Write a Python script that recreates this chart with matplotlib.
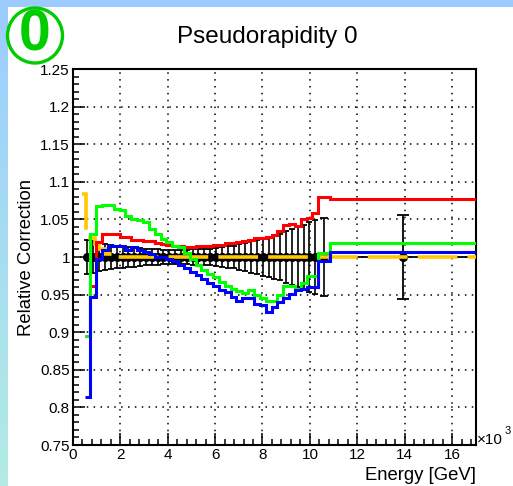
import numpy as np
import matplotlib.pyplot as plt
from matplotlib.patches import Circle, Rectangle
from matplotlib.ticker import MultipleLocator, FuncFormatter

plt.switch_backend('Agg')
plt.rcParams['font.family'] = ['Liberation Sans', 'DejaVu Sans']

# bin edges in GeV (same binning for red / green / blue and the black graph)
edges = np.array([500, 746, 993, 1239, 1485, 1731, 1978, 2224, 2470, 2716,
                  2963, 3209, 3455, 3701, 3948, 4194, 4440, 4686, 4933, 5179,
                  5425, 5671, 5918, 6164, 6410, 6656, 6903, 7149, 7395, 7641,
                  7888, 8134, 8380, 8626, 8873, 9119, 9365, 9611, 9858, 10104,
                  10350, 10850, 17000])

red = [0.895, 0.962, 1.020, 1.030, 1.030, 1.030, 1.027, 1.027, 1.023, 1.023,
       1.021, 1.021, 1.019, 1.017, 1.016, 1.015, 1.014, 1.013, 1.013, 1.014,
       1.014, 1.014, 1.016, 1.016, 1.018, 1.018, 1.020, 1.021, 1.023, 1.025,
       1.025, 1.027, 1.029, 1.035, 1.042, 1.044, 1.041, 1.050, 1.052, 1.058,
       1.080, 1.077]

green = [0.895, 1.030, 1.068, 1.069, 1.069, 1.064, 1.062, 1.055, 1.051, 1.049,
         1.046, 1.037, 1.030, 1.024, 1.020, 1.015, 1.013, 1.005, 0.997, 0.990,
         0.983, 0.977, 0.973, 0.967, 0.962, 0.958, 0.955, 0.952, 0.956, 0.949,
         0.945, 0.941, 0.941, 0.949, 0.962, 0.962, 0.958, 0.966, 0.975, 0.975,
         1.005, 1.018]

blue = [0.814, 0.947, 0.998, 1.009, 1.014, 1.014, 1.014, 1.009, 1.013, 1.009,
        1.007, 1.004, 1.000, 1.000, 0.998, 0.995, 0.989, 0.985, 0.980, 0.976,
        0.971, 0.966, 0.962, 0.956, 0.953, 0.947, 0.942, 0.945, 0.945, 0.938,
        0.936, 0.927, 0.934, 0.940, 0.946, 0.951, 0.956, 0.958, 0.960, 0.960,
        0.995, 1.007]

# reference graph: value 1 with symmetric errors
ref_err = [0.022, 0.021, 0.019, 0.017, 0.016, 0.015, 0.014, 0.013, 0.013, 0.012,
           0.011, 0.010, 0.010, 0.009, 0.009, 0.009, 0.009, 0.009, 0.010, 0.010,
           0.011, 0.011, 0.012, 0.013, 0.014, 0.015, 0.017, 0.019, 0.021, 0.023,
           0.025, 0.027, 0.029, 0.031, 0.034, 0.037, 0.040, 0.043, 0.046, 0.049,
           0.052, 0.056]

# yellow curve has its own binning
yellow_edges = [400, 580, 730, 940, 1110, 1360, 1790, 17000]
yellow = [1.084, 1.038, 1.025, 1.017, 1.010, 1.004, 1.000]

centers = 0.5 * (edges[:-1] + edges[1:])
halfw = 0.5 * (edges[1:] - edges[:-1])
ones = np.ones(len(centers))

fig = plt.figure(figsize=(5.13, 4.86), dpi=100)
fig.patch.set_facecolor('white')

# light blue page border
fig.add_artist(Rectangle((0, 1 - 7 / 486), 1, 7 / 486, transform=fig.transFigure,
                         facecolor='#9cccff', edgecolor='none'))
bax = fig.add_axes([0, 0, 8 / 513, 1 - 7 / 486])
grad = np.linspace(0, 1, 100).reshape(-1, 1)
cm = plt.matplotlib.colors.LinearSegmentedColormap.from_list('b', ['#9ccdff', '#b2ece4'])
bax.imshow(grad, aspect='auto', cmap=cm, extent=[0, 1, 0, 1], origin='upper')
bax.axis('off')

ax = fig.add_axes([72.7 / 513, 1 - 445 / 486, (476 - 72.7) / 513, (445 - 69) / 486])

ax.errorbar(centers[:40], ones[:40], yerr=ref_err[:40], xerr=halfw[:40], fmt='o',
            color='k', ms=5.5, elinewidth=1.2, capsize=2.0, capthick=1.3, zorder=2)
ax.errorbar(centers[40:41], ones[40:41], yerr=ref_err[40:41], xerr=halfw[40:41], fmt='o',
            color='k', ms=5.5, elinewidth=1.2, capsize=3.0, capthick=1.3, zorder=2)
ax.errorbar(centers[41:], ones[41:], yerr=ref_err[41:], xerr=halfw[41:], fmt='o',
            color='k', ms=5.5, elinewidth=1.3, capsize=4.0, capthick=1.3, zorder=2)

ax.stairs(yellow, yellow_edges, baseline=None, color='#ffc800', lw=2.6,
          linestyle=(0, (11, 2.8)), zorder=3)
ax.stairs(red, edges, baseline=None, color='#ff0000', lw=2.2, zorder=4)
ax.stairs(green, edges, baseline=None, color='#00ff00', lw=2.2, zorder=5)
ax.stairs(blue, edges, baseline=None, color='#0000ff', lw=2.2, zorder=6)

ax.set_xlim(0, 17000)
ax.set_ylim(0.75, 1.25)
ax.xaxis.set_major_locator(MultipleLocator(2000))
ax.xaxis.set_minor_locator(MultipleLocator(400))
ax.yaxis.set_major_locator(MultipleLocator(0.05))
ax.yaxis.set_minor_locator(MultipleLocator(0.01))
ax.xaxis.set_major_formatter(FuncFormatter(lambda v, p: '%d' % round(v / 1000)))
ax.yaxis.set_major_formatter(FuncFormatter(lambda v, p: ('%.2f' % v).rstrip('0').rstrip('.')))

ax.grid(True, which='major', color='k', linestyle=(0, (1, 3.5)), lw=1.1)
ax.tick_params(which='both', direction='in', top=False, right=False,
               labelsize=11, width=1.1)
ax.tick_params(which='major', length=8.5, pad=2)
ax.tick_params(which='minor', length=4.2)
for s in ax.spines.values():
    s.set_linewidth(1.5)

ax.set_ylabel('Relative Correction', fontsize=13.3, labelpad=4)
ax.set_xlabel('Energy [GeV]', fontsize=13.3, loc='right', labelpad=4)

fig.text(267 / 513, 1 - 37 / 486, 'Pseudorapidity 0', fontsize=17.5,
         ha='center', va='center')
fig.text(477 / 513, 1 - 440 / 486, '\u00d710', fontsize=11, ha='left', va='center')
fig.text(505 / 513, 1 - 431 / 486, '3', fontsize=8, ha='left', va='center')

# green badge
fig.add_artist(Circle((0.35, 4.86 - 0.355), 0.275, transform=fig.dpi_scale_trans,
                      facecolor='white', edgecolor='#00cc00', lw=2.4))
fig.text(0.35 / 5.13, 1 - 0.355 / 4.86, '0', fontsize=41, fontweight='bold',
         color='#00cc00', ha='center', va='center')

fig.savefig('out.png', dpi=100)
